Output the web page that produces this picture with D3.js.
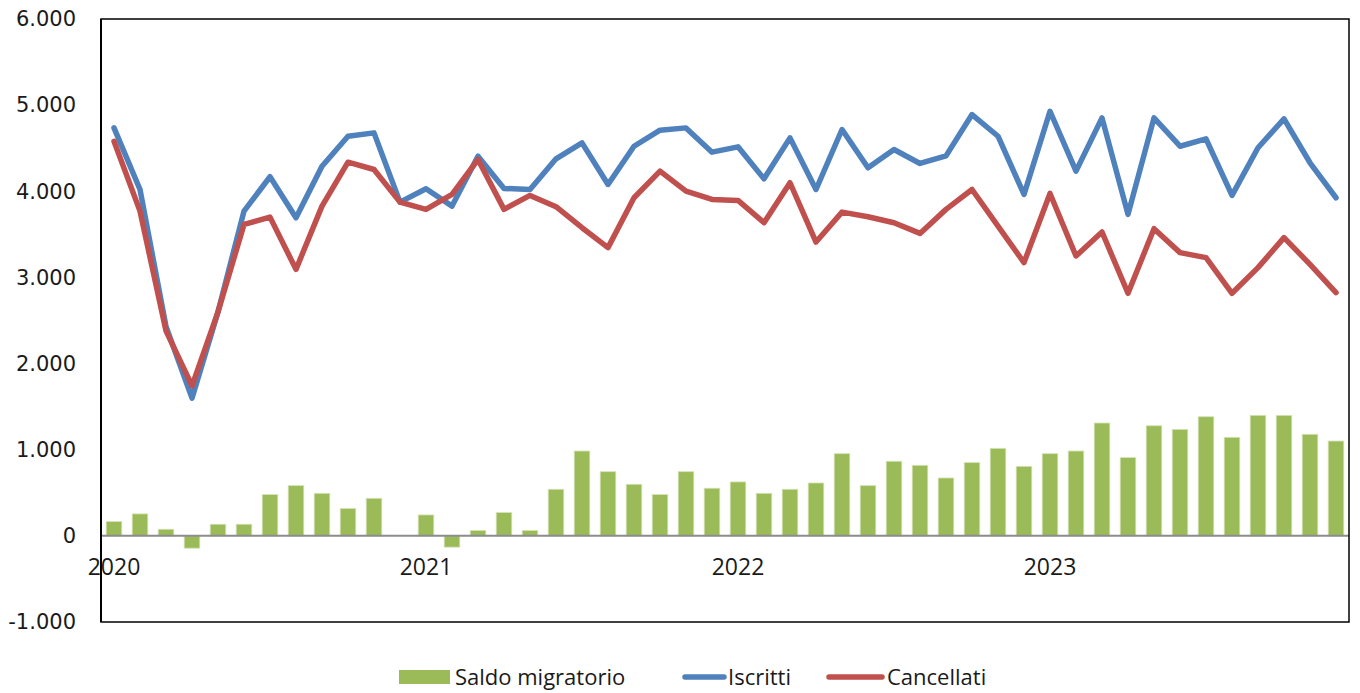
<!DOCTYPE html>
<html><head><meta charset="utf-8">
<script src="https://cdn.jsdelivr.net/npm/d3@7"></script>
<style>body{margin:0;background:#fff;} svg{display:block;}</style>
</head><body>
<svg id="chart" width="1360" height="693"></svg>
<script>
const months = d3.range(48).map(i => `${2020 + Math.floor(i/12)}-${String(i%12+1).padStart(2,"0")}`);
const yearLabels = ["2020","2021","2022","2023"];
const yTicks = [-1000,0,1000,2000,3000,4000,5000,6000];
const iscritti = [4736,4021,2430,1599,2600,3770,4169,3693,4291,4639,4678,3874,
                  4029,3828,4407,4033,4021,4377,4562,4079,4523,4709,4736,4454,
                  4516,4145,4620,4021,4717,4273,4485,4323,4411,4891,4639,3963,
                  4929,4234,4852,3732,4852,4523,4609,3952,4505,4841,4331,3925];
const cancellati = [4581,3770,2379,1742,2600,3616,3700,3094,3828,4338,4253,3874,
                    3790,3963,4369,3790,3952,3821,3577,3346,3925,4234,4002,3905,
                    3894,3635,4099,3411,3758,3705,3635,3511,3790,4021,3596,3172,
                    3975,3249,3527,2816,3566,3288,3230,2816,3114,3462,3152,2824];
const saldo = [166,255,77,-143,135,135,479,583,494,317,436,0,
               243,-131,62,270,62,541,985,745,599,479,745,553,
               626,494,541,614,954,583,866,819,672,850,1016,807,
               954,985,1310,908,1278,1236,1383,1144,1399,1399,1179,1101];
const seriesNames = ["Saldo migratorio","Iscritti","Cancellati"];
const colors = {saldo:"#9BBB59", iscritti:"#4F81BD", cancellati:"#C0504D"};

const svg = d3.select("#chart");
const L = 101, R = 1349, T = 19, B = 622;
const x = d3.scaleBand().domain(months).range([L, R]).paddingInner(0.4).paddingOuter(0.2);
const xc = d => x(d) + x.bandwidth()/2;
const y = d3.scaleLinear().domain([-1000, 6000]).range([B, T]);
const fmt = v => d3.format(",")(Math.abs(v)).replace(/,/g, ".").replace(/^/, v < 0 ? "-" : "");

// y axis labels
const yAxis = d3.axisLeft(y).tickValues(yTicks).tickFormat(fmt).tickSize(0).tickPadding(25);
const gy = svg.append("g").attr("transform", `translate(${L},0)`).call(yAxis);
gy.select(".domain").remove();
gy.selectAll("text").attr("font-family","DejaVu Sans, Verdana, sans-serif").attr("font-size",21).attr("fill","#1a1a1a");

// bars
svg.append("g").selectAll("rect").data(saldo).join("rect")
  .attr("x", (d,i) => x(months[i]))
  .attr("width", x.bandwidth())
  .attr("y", d => y(Math.max(0,d)))
  .attr("height", d => Math.abs(y(d) - y(0)))
  .attr("fill", colors.saldo)
  .attr("stroke", "#d5e3b8").attr("stroke-width", 0.8);

// zero line
svg.append("line").attr("x1", L).attr("x2", R).attr("y1", y(0)).attr("y2", y(0))
  .attr("stroke", "#8c8c8c").attr("stroke-width", 2);

// year labels via bottom axis at 0
const yearMonths = yearLabels.map(yr => `${yr}-01`);
const xAxis = d3.axisBottom(x).tickValues(yearMonths).tickFormat(d => d.slice(0,4)).tickSize(0).tickPadding(23);
const gx = svg.append("g").attr("transform", `translate(0,${y(0)})`).call(xAxis);
gx.select(".domain").remove();
gx.selectAll("text").attr("font-family","Open Sans, sans-serif").attr("font-size",23).attr("fill","#1a1a1a");

// lines
const line = d3.line().x((d,i) => xc(months[i])).y(d => y(d));
svg.append("path").datum(iscritti).attr("d", line).attr("fill","none")
  .attr("stroke", colors.iscritti).attr("stroke-width", 5.5).attr("stroke-linejoin","round").attr("stroke-linecap","round");
svg.append("path").datum(cancellati).attr("d", line).attr("fill","none")
  .attr("stroke", colors.cancellati).attr("stroke-width", 5.5).attr("stroke-linejoin","round").attr("stroke-linecap","round");

// frame
svg.append("rect").attr("x", L).attr("y", T).attr("width", R-L).attr("height", B-T)
  .attr("fill","none").attr("stroke","#000").attr("stroke-width",1.5);
svg.append("line").attr("x1", L).attr("x2", L).attr("y1", T).attr("y2", B).attr("stroke","#000").attr("stroke-width",2);

// legend
const lg = svg.append("g").attr("font-family","Open Sans, sans-serif").attr("font-size",22).attr("fill","#1a1a1a");
const ly = 677;
lg.append("rect").attr("x", 399).attr("y", ly-7).attr("width", 51).attr("height", 14).attr("fill", colors.saldo);
lg.append("text").attr("x", 455).attr("y", ly).attr("dy","0.35em").text(seriesNames[0]);
lg.append("line").attr("x1", 685).attr("x2", 724).attr("y1", ly).attr("y2", ly).attr("stroke", colors.iscritti).attr("stroke-width",5.5).attr("stroke-linecap","round");
lg.append("text").attr("x", 728).attr("y", ly).attr("dy","0.35em").text(seriesNames[1]);
lg.append("line").attr("x1", 829).attr("x2", 882).attr("y1", ly).attr("y2", ly).attr("stroke", colors.cancellati).attr("stroke-width",5.5).attr("stroke-linecap","round");
lg.append("text").attr("x", 887).attr("y", ly).attr("dy","0.35em").text(seriesNames[2]);
</script>
</body></html>
